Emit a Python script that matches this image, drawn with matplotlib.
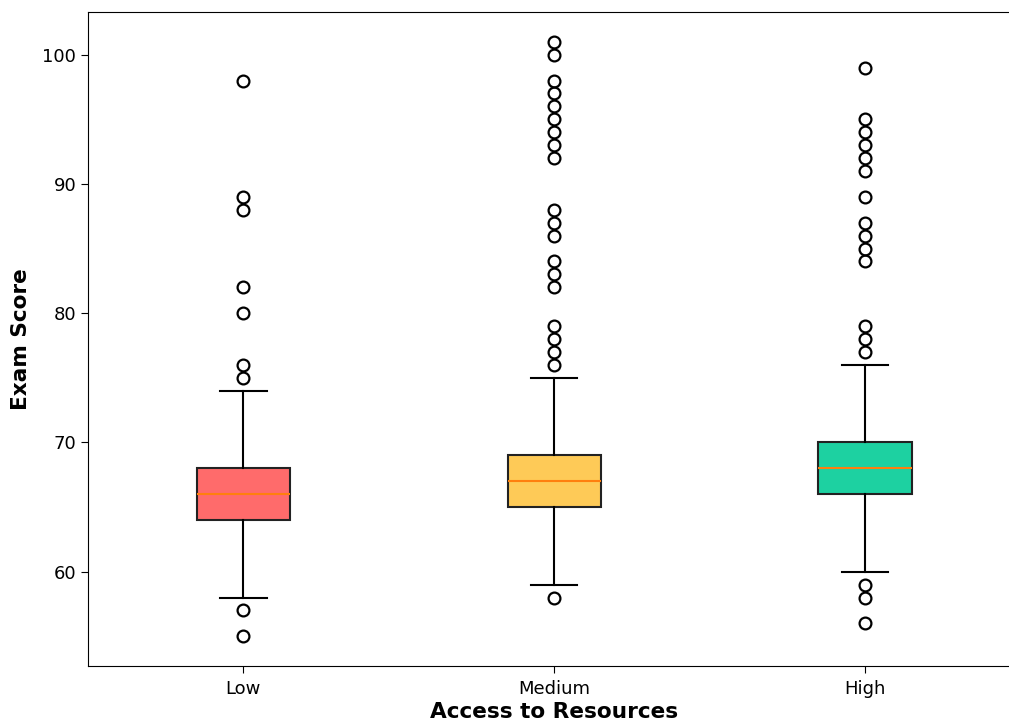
import matplotlib
matplotlib.use('Agg')
import matplotlib.pyplot as plt

categories = ['Low', 'Medium', 'High']
q1 = [64, 65, 66]
medians = [66, 67, 68]
q3 = [68, 69, 70]
whislo = [58, 59, 60]
whishi = [74, 75, 76]
outliers = [
    [98, 89, 88, 82, 80, 76, 75, 57, 55],
    [101, 100, 98, 97, 96, 95, 94, 93, 92, 88, 87, 86, 84, 83, 82, 79, 78, 77, 76, 58],
    [99, 95, 94, 93, 92, 91, 89, 87, 86, 85, 84, 79, 78, 77, 59, 58, 56],
]
colors = ['#FF6B6B', '#FECA57', '#1DD1A1']

stats = []
for i in range(len(categories)):
    stats.append({'label': categories[i], 'q1': q1[i], 'med': medians[i], 'q3': q3[i],
                  'whislo': whislo[i], 'whishi': whishi[i], 'fliers': outliers[i]})

fig = plt.figure(figsize=(10.09, 7.24), dpi=100)
ax = fig.add_axes([0.0872, 0.0801, 0.924, 0.9033])

bp = ax.bxp(stats, widths=0.3, patch_artist=True,
            boxprops=dict(linewidth=1.5, edgecolor='#222222'),
            whiskerprops=dict(linewidth=1.5),
            capprops=dict(linewidth=1.5),
            medianprops=dict(color='#ff7f0e', linewidth=1.5),
            flierprops=dict(marker='o', markersize=8.5, markeredgewidth=1.6,
                            markerfacecolor='none', markeredgecolor='black'))
for patch, c in zip(bp['boxes'], colors):
    patch.set_facecolor(c)

ax.set_xlabel('Access to Resources', fontsize=15.6, fontweight='bold', labelpad=3)
ax.set_ylabel('Exam Score', fontsize=15.6, fontweight='bold', labelpad=8)
ax.tick_params(labelsize=13, length=5)
ax.tick_params(axis='x', pad=5)

plt.savefig('out.png', dpi=100)
